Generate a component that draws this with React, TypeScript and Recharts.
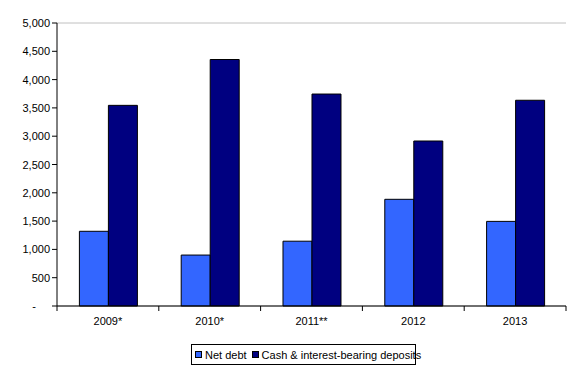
import React from 'react';
import { BarChart, Bar, XAxis, YAxis, CartesianGrid } from 'recharts';

const years = ['2009*', '2010*', '2011**', '2012', '2013'];
const netDebt = [1320, 900, 1145, 1885, 1495];
const cashDeposits = [3545, 4355, 3745, 2915, 3635];
const yTicks = [0, 500, 1000, 1500, 2000, 2500, 3000, 3500, 4000, 4500, 5000];

const data = years.map((year, i) => ({
  year,
  'Net debt': netDebt[i],
  'Cash & interest-bearing deposits': cashDeposits[i],
}));

const FONT = '"Liberation Sans", Arial, sans-serif';

const YTick = ({ x, y, payload }: any) => {
  const v = payload.value;
  const label = v === 0 ? '-' : v.toLocaleString('en-US');
  return (
    <text x={v === 0 ? x - 14 : x} y={y} dy={4} textAnchor="end" fontSize={11} fontFamily={FONT} fill="#000">
      {label}
    </text>
  );
};

const XTick = ({ x, y, payload, index }: any) => {
  const half = payload.offset || 0;
  return (
    <g>
      <line x1={x - half} x2={x - half} y1={y - 8} y2={y - 3} stroke="#000" />
      {index === years.length - 1 && <line x1={x + half} x2={x + half} y1={y - 8} y2={y - 3} stroke="#000" />}
      <text x={x} y={y} dy={11} textAnchor="middle" fontSize={11} fontFamily={FONT} fill="#000">
        {payload.value}
      </text>
    </g>
  );
};

const Swatch = ({ color }: { color: string }) => (
  <span
    style={{
      display: 'inline-block',
      flexShrink: 0,
      width: 7,
      height: 7,
      background: color,
      border: '1px solid #000',
      boxSizing: 'border-box',
      marginRight: 3,
    }}
  />
);

const LegendBox = () => (
  <div
    style={{
      position: 'absolute',
      left: 191,
      top: 344,
      width: 225,
      height: 21,
      border: '1px solid #000',
      boxSizing: 'border-box',
      display: 'flex',
      alignItems: 'center',
      fontFamily: FONT,
      fontSize: 11,
      color: '#000',
      paddingLeft: 3,
      whiteSpace: 'nowrap',
    }}
  >
    <Swatch color="#3366FF" />
    <span style={{ marginRight: 5 }}>Net debt</span>
    <Swatch color="#000080" />
    <span>Cash &amp; interest-bearing deposits</span>
  </div>
);

export default function App() {
  return (
    <div style={{ position: 'absolute', left: 0, top: 0, width: 577, height: 371, background: '#fff' }}>
      <BarChart
        width={577}
        height={371}
        data={data}
        margin={{ top: 23, right: 11, bottom: 0, left: 0 }}
        barGap={0}
        barCategoryGap="22%"
      >
        <CartesianGrid horizontal vertical={false} stroke="#c0c0c0" />
        <XAxis
          dataKey="year"
          axisLine={{ stroke: '#000' }}
          tickLine={false}
          tick={<XTick />}
          interval={0}
          height={65}
        />
        <YAxis
          yAxisId="left"
          domain={[0, 5000]}
          ticks={yTicks}
          width={57}
          axisLine={{ stroke: '#000' }}
          tickLine={{ stroke: '#000' }}
          tickSize={5}
          tick={<YTick />}
          interval={0}
        />
        <YAxis
          yAxisId="right"
          orientation="right"
          domain={[0, 5000]}
          width={0}
          tick={false}
          tickLine={false}
          axisLine={{ stroke: '#808080' }}
        />
        <Bar yAxisId="left" dataKey="Net debt" fill="#3366FF" stroke="#000" strokeWidth={1} isAnimationActive={false} />
        <Bar yAxisId="left" dataKey="Cash & interest-bearing deposits" fill="#000080" stroke="#000" strokeWidth={1} isAnimationActive={false} />
      </BarChart>
      <LegendBox />
    </div>
  );
}
